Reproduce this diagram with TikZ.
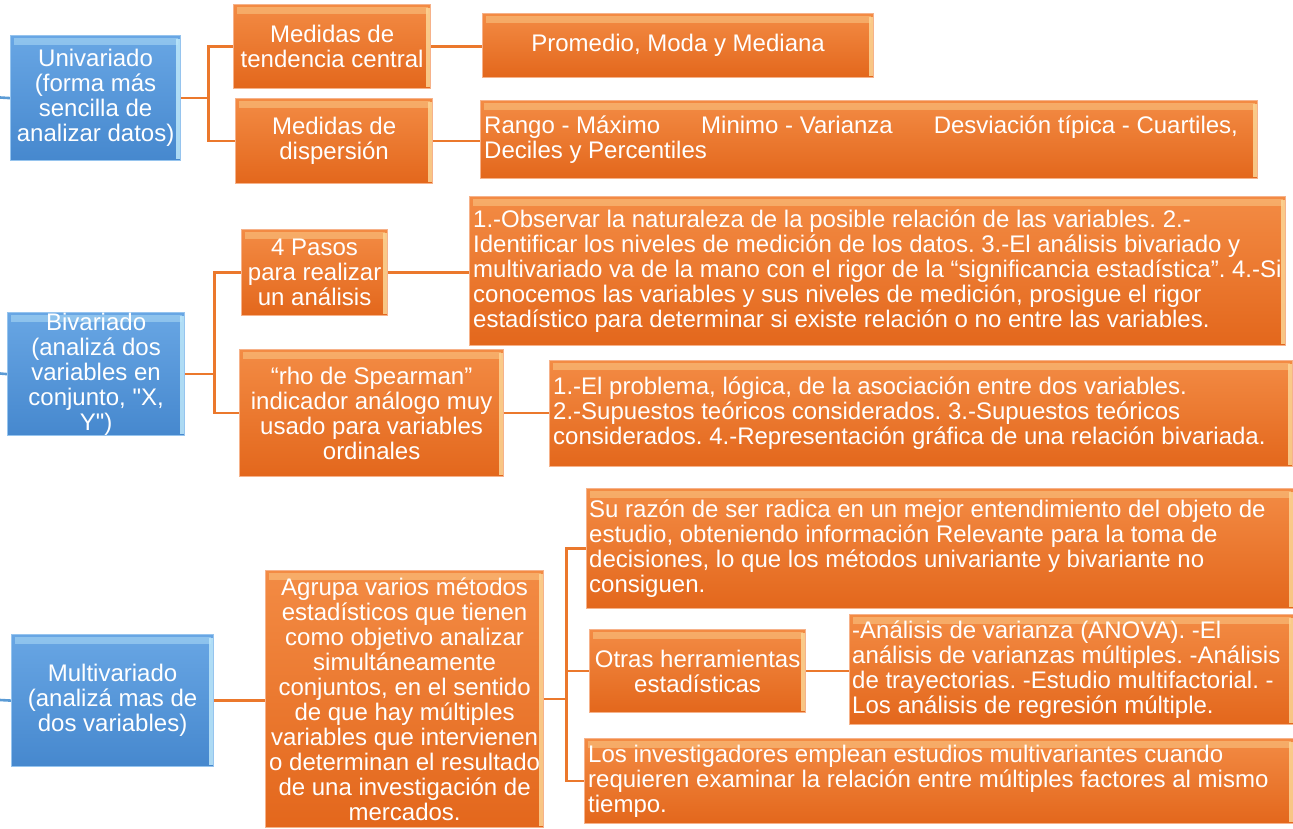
\documentclass[tikz,border=0pt]{standalone}
\usepackage{fontspec}
\setmainfont{Liberation Sans}[Ligatures=TeXOff]
\usetikzlibrary{backgrounds}
\frenchspacing
\definecolor{oTop}{RGB}{243,139,68}
\definecolor{oBot}{RGB}{227,103,28}
\definecolor{oEdge}{RGB}{246,178,138}
\definecolor{oHi}{RGB}{252,214,150}
\definecolor{bTop}{RGB}{104,166,228}
\definecolor{bBot}{RGB}{70,136,206}
\definecolor{bEdge}{RGB}{150,196,238}
\definecolor{bHi}{RGB}{190,232,250}
\definecolor{connC}{RGB}{235,120,44}
\definecolor{bconnC}{RGB}{91,155,213}
\tikzset{
  bevel/.style={path picture={
    \fill[#1,opacity=.45] ([xshift=3pt,yshift=-2pt]path picture bounding box.north west) rectangle ([xshift=-3pt,yshift=-9pt]path picture bounding box.north east);
    \fill[#1,opacity=.85] ([xshift=-5pt,yshift=-3pt]path picture bounding box.north east) rectangle ([xshift=-1pt,yshift=2pt]path picture bounding box.south east);
  }},
  boxbase/.style={anchor=north west, inner xsep=1pt, inner ysep=0pt, text=white,
    font=\fontsize{24}{25}\selectfont, align=center, line width=1.2pt},
  obox/.style={boxbase, draw=oEdge, top color=oTop, bottom color=oBot, bevel=oHi},
  bbox/.style={boxbase, draw=bEdge, top color=bTop, bottom color=bBot, bevel=bHi},
  ltxt/.style={anchor=west, inner sep=0pt, text=white, font=\fontsize{24}{25}\selectfont, align=left},
  connL/.style={draw=connC, line width=2.6pt},
  bconnL/.style={draw=bconnC, line width=2.6pt},
}
\begin{document}
\begin{tikzpicture}[x=1pt,y=-1pt]
\useasboundingbox (0,0) rectangle (1293,828);
% ---- Univariado
\node[bbox, minimum width=170, minimum height=125] (U) at (10,35) {Univariado\\(forma más\\sencilla de\\analizar datos)};
\node[obox, minimum width=197, minimum height=84] (M1) at (233,4) {Medidas de\\tendencia central};
\node[obox, minimum width=197, minimum height=85] (M2) at (235,98) {Medidas de\\dispersión};
\node[obox, minimum width=391, minimum height=64] (P) at (482,13) {Promedio, Moda y Mediana};
\node[obox, minimum width=777, minimum height=78] (R) at (480,100) {};
\node[ltxt] (Rt) at ([xshift=4pt]R.west) {Rango - Máximo\hspace*{41pt}Minimo - Varianza\hspace*{41pt}Desviación típica - Cuartiles,\\Deciles y Percentiles};
% ---- Bivariado
\node[bbox, minimum width=177, minimum height=123] (B) at (7,312) {Bivariado\\(analizá dos\\variables en\\conjunto, "X,\\Y")};
\node[obox, minimum width=146, minimum height=86] (S4) at (241,229) {4 Pasos\\para realizar\\un análisis};
\node[obox, minimum width=816, minimum height=149] (OB) at (469,196) {};
\node[ltxt] (OBt) at ([xshift=4pt]OB.west) {1.-Observar la naturaleza de la posible relación de las variables. 2.-\\Identificar los niveles de medición de los datos. 3.-El análisis bivariado y\\multivariado va de la mano con el rigor de la “significancia estadística”. 4.-Si\\conocemos las variables y sus niveles de medición, prosigue el rigor\\estadístico para determinar si existe relación o no entre las variables.};
\node[obox, minimum width=264, minimum height=127] (RH) at (239,349) {“rho de Spearman”\\indicador análogo muy\\usado para variables\\ordinales};
\node[obox, minimum width=743, minimum height=106] (PR) at (549,360) {};
\node[ltxt] (PRt) at ([xshift=4pt]PR.west) {1.-El problema, lógica, de la asociación entre dos variables.\\2.-Supuestos teóricos considerados. 3.-Supuestos teóricos\\considerados. 4.-Representación gráfica de una relación bivariada.};
% ---- Multivariado
\node[bbox, minimum width=202, minimum height=132] (MV) at (11,634) {Multivariado\\(analizá mas de\\dos variables)};
\node[obox, minimum width=278, minimum height=257] (AG) at (265,570) {Agrupa varios métodos\\estadísticos que tienen\\como objetivo analizar\\simultáneamente\\conjuntos, en el sentido\\de que hay múltiples\\variables que intervienen\\o determinan el resultado\\de una investigación de\\mercados.};
\node[obox, minimum width=707, minimum height=120] (SR) at (586,488) {};
\node[ltxt] (SRt) at ([xshift=3pt]SR.west) {Su razón de ser radica en un mejor entendimiento del objeto de\\estudio, obteniendo información Relevante para la toma de\\decisiones, lo que los métodos univariante y bivariante no\\consiguen.};
\node[obox, minimum width=216, minimum height=83] (OT) at (589,629) {Otras herramientas\\estadísticas};
\node[obox, minimum width=444, minimum height=110] (AN) at (849,614) {};
\node[ltxt] (ANt) at ([xshift=3pt]AN.west) {-Análisis de varianza (ANOVA). -El\\análisis de varianzas múltiples. -Análisis\\de trayectorias. -Estudio multifactorial. -\\Los análisis de regresión múltiple.};
\node[obox, minimum width=709, minimum height=85] (LI) at (584,738) {};
\node[ltxt] (LIt) at ([xshift=4pt]LI.west) {Los investigadores emplean estudios multivariantes cuando\\requieren examinar la relación entre múltiples factores al mismo\\tiempo.};
% ---- connectors
\coordinate (eU) at (0,97.5);
\coordinate (eB) at (0,373.5);
\coordinate (eM) at (0,700);
\begin{pgfonlayer}{background}
\draw[bconnL] (eU) -- (U.west);
\draw[bconnL] (eB) -- (B.west);
\draw[bconnL] (eM) -- (MV.west);
\draw[connL] (U.east) -- ++(27,0) |- (M1.west);
\draw[connL] (U.east) -- ++(27,0) |- (M2.west);
\draw[connL] (M1.east) -- (M1.east -| P.west);
\draw[connL] (M2.east) -- (M2.east -| R.west);
\draw[connL] (B.east) -- ++(29,0) |- (S4.west);
\draw[connL] (B.east) -- ++(29,0) |- (RH.west);
\draw[connL] (S4.east) -- (S4.east -| OB.west);
\draw[connL] (RH.east) -- (RH.east -| PR.west);
\draw[connL] (MV.east) -- (MV.east -| AG.west);
\draw[connL] (AG.east) -- ++(22,0) |- (SR.west);
\draw[connL] (AG.east) -- ++(22,0) |- (OT.west);
\draw[connL] (AG.east) -- ++(22,0) |- (LI.west);
\draw[connL] (OT.east) -- (OT.east -| AN.west);
\end{pgfonlayer}
\end{tikzpicture}
\end{document}
